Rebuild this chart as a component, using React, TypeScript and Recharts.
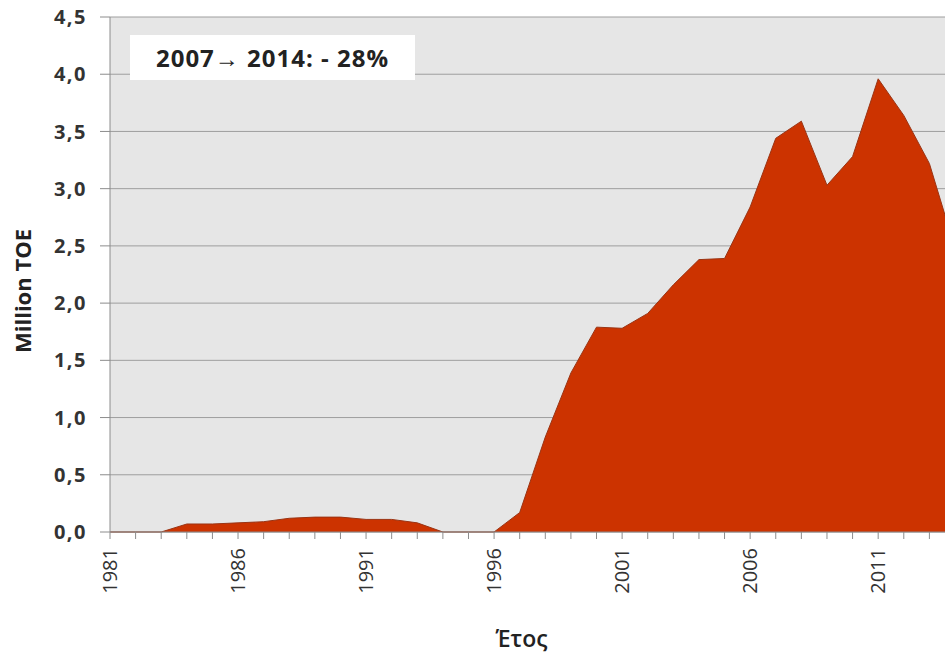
import React from "react";
import { Area, AreaChart, CartesianGrid, Label, XAxis, YAxis } from "recharts";

const years = [
  "1981", "1982", "1983", "1984", "1985", "1986", "1987", "1988", "1989", "1990",
  "1991", "1992", "1993", "1994", "1995", "1996", "1997", "1998", "1999", "2000",
  "2001", "2002", "2003", "2004", "2005", "2006", "2007", "2008", "2009", "2010",
  "2011", "2012", "2013", "2014",
];

// Million TOE per year
const production = [
  0, 0, 0, 0.07, 0.07, 0.08, 0.09, 0.12, 0.13, 0.13,
  0.11, 0.11, 0.08, 0, 0, 0, 0.17, 0.83, 1.39, 1.79,
  1.78, 1.91, 2.16, 2.38, 2.39, 2.84, 3.44, 3.59, 3.03, 3.28,
  3.96, 3.64, 3.22, 2.48,
];

const yTicks = [0, 0.5, 1, 1.5, 2, 2.5, 3, 3.5, 4, 4.5];
const annotation = "2007\u2192 2014: - 28%";

const data = years.map((year, i) => ({ year, value: production[i] }));

const FONT = "'Open Sans', 'Liberation Sans', sans-serif";
const AXIS = "#8c8c8c";

function YearTick({ x, y, payload }: any) {
  const idx = years.indexOf(payload.value);
  const tx = x + 7;
  const ty = y + 16;
  return (
    <g>
      <line x1={x} y1={y} x2={x} y2={y + 7} stroke={AXIS} />
      {idx % 5 === 0 && (
        <text
          x={tx}
          y={ty}
          transform={`rotate(-90 ${tx} ${ty})`}
          textAnchor="end"
          fontSize={20}
          fontFamily={FONT}
          fill="#333"
        >
          {payload.value}
        </text>
      )}
    </g>
  );
}

export default function App() {
  return (
    <div
      style={{
        position: "absolute",
        left: 0,
        top: 0,
        width: 945,
        height: 659,
        overflow: "hidden",
        background: "#fff",
      }}
    >
      <AreaChart
        width={980}
        height={659}
        data={data}
        margin={{ top: 17, right: 25, bottom: 0, left: 20 }}
      >
        <CartesianGrid vertical={false} stroke="#9e9e9e" fill="#e6e6e6" />
        <XAxis
          dataKey="year"
          interval={0}
          height={127}
          tickSize={0}
          tickMargin={0}
          tickLine={false}
          axisLine={{ stroke: AXIS }}
          tick={<YearTick />}
        >
          <Label
            content={({ viewBox }: any) => (
              <text
                x={viewBox.x + viewBox.width / 2 - 11}
                y={647}
                textAnchor="middle"
                fontSize={23}
                fontWeight={600}
                fontFamily={FONT}
                fill="#222"
              >
                Έτος
              </text>
            )}
          />
        </XAxis>
        <YAxis
          width={90}
          domain={[0, 4.5]}
          ticks={yTicks}
          interval={0}
          tickSize={10}
          tickMargin={13}
          axisLine={{ stroke: AXIS }}
          tickLine={{ stroke: AXIS }}
          tickFormatter={(v: number) => v.toFixed(1).replace(".", ",")}
          tick={{ fill: "#333", fontSize: 20, fontWeight: 700, fontFamily: FONT, letterSpacing: 1.5 }}
        >
          <Label
            content={({ viewBox }: any) => {
              const cx = viewBox.x + 2;
              const cy = 291;
              return (
                <text
                  x={cx}
                  y={cy}
                  transform={`rotate(-90 ${cx} ${cy})`}
                  textAnchor="middle"
                  dominantBaseline="central"
                  fontSize={22}
                  fontWeight={700}
                  fontFamily={FONT}
                  fill="#222"
                >
                  Million TOE
                </text>
              );
            }}
          />
        </YAxis>
        <Area
          type="linear"
          dataKey="value"
          stroke="#9a3414"
          strokeWidth={1}
          fill="#cc3300"
          fillOpacity={1}
          isAnimationActive={false}
        />
      </AreaChart>
      <div
        style={{
          position: "absolute",
          left: 130,
          top: 35,
          width: 285,
          height: 45,
          background: "#fff",
          display: "flex",
          alignItems: "center",
          justifyContent: "center",
          fontFamily: FONT,
          fontWeight: 700,
          fontSize: 24,
          letterSpacing: 1,
          color: "#222",
          whiteSpace: "nowrap",
        }}
      >
        {annotation}
      </div>
    </div>
  );
}
